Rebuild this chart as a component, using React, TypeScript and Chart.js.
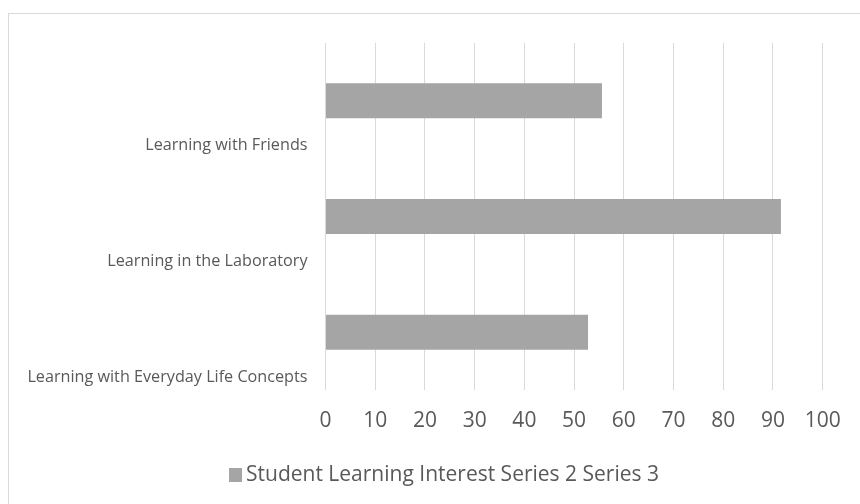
import { useEffect, useRef } from "react";
import { Chart, registerables } from "chart.js";

Chart.register(...registerables);

// Categories listed top to bottom as they appear on the vertical axis
const categories = [
  "Learning with Friends",
  "Learning in the Laboratory",
  "Learning with Everyday Life Concepts",
];

const seriesNames = ["Student Learning Interest", "Series 2", "Series 3"];

const studentLearningInterest = [55.6, 91.6, 52.8];
const series2: (number | null)[] = [null, null, null];
const series3: (number | null)[] = [null, null, null];

const xMin = 0;
const xMax = 100;
const xStep = 10;

const FONT = "'Open Sans', 'Noto Sans', sans-serif";
const TEXT = "#595959";
const BAR = "#a5a5a5";
const GRID = "#d9d9d9";

// Single-row legend: one key box for the filled series, names joined by spaces
const bottomLegend = {
  id: "bottomLegend",
  afterDraw(chart: any) {
    const ctx: CanvasRenderingContext2D = chart.ctx;
    const sets = chart.data.datasets;
    const text = sets.map((d: any) => d.label).join(" ");
    ctx.save();
    ctx.font = `21px ${FONT}`;
    const textW = ctx.measureText(text).width;
    const box = 13;
    const gap = 4;
    const total = box + gap + textW;
    const x0 = chart.width / 2 - total / 2;
    const cy = 461;
    ctx.fillStyle = sets[0].backgroundColor;
    ctx.fillRect(x0, cy - 7, box, 14);
    ctx.fillStyle = TEXT;
    ctx.textBaseline = "middle";
    ctx.textAlign = "left";
    ctx.fillText(text, x0 + box + gap, cy);
    ctx.restore();
  },
};

export default function App() {
  const canvasRef = useRef<HTMLCanvasElement | null>(null);

  useEffect(() => {
    if (!canvasRef.current) return;
    const barStyle = {
      grouped: false,
      categoryPercentage: 1,
      barPercentage: 0.303,
    };
    const chart = new Chart(canvasRef.current, {
      type: "bar",
      data: {
        labels: categories,
        datasets: [
          { label: seriesNames[0], data: studentLearningInterest, backgroundColor: BAR, ...barStyle },
          { label: seriesNames[1], data: series2, backgroundColor: "transparent", ...barStyle },
          { label: seriesNames[2], data: series3, backgroundColor: "transparent", ...barStyle },
        ],
      } as any,
      options: {
        indexAxis: "y",
        responsive: false,
        animation: false,
        layout: { padding: { left: 0, right: 56.3, top: 29, bottom: 0 } },
        plugins: {
          legend: { display: false },
          tooltip: { enabled: false },
        },
        scales: {
          x: {
            min: xMin,
            max: xMax,
            grid: { color: GRID, lineWidth: 1, drawTicks: false },
            border: { display: false },
            ticks: {
              stepSize: xStep,
              color: TEXT,
              font: { family: FONT, size: 21 },
              padding: 18.5,
            },
            afterFit: (s: any) => {
              s.height = 114;
            },
          },
          y: {
            grid: { display: false, drawTicks: false },
            border: { display: false },
            ticks: {
              color: TEXT,
              font: { family: FONT, size: 16.2 },
              padding: 18,
              labelOffset: 45,
              autoSkip: false,
            },
            afterFit: (s: any) => {
              s.width = 316.5;
            },
          },
        },
      } as any,
      plugins: [bottomLegend],
    });
    return () => chart.destroy();
  }, []);

  return (
    <div
      style={{
        position: "fixed",
        left: 0,
        top: 0,
        width: 860,
        height: 504,
        overflow: "hidden",
        background: "#ffffff",
      }}
    >
      <div
        style={{
          position: "absolute",
          left: 8,
          top: 13,
          width: 900,
          height: 600,
          borderLeft: `1px solid ${GRID}`,
          borderTop: `1px solid ${GRID}`,
          boxSizing: "border-box",
        }}
      />
      <canvas
        ref={canvasRef}
        width={870}
        height={490}
        style={{ position: "absolute", left: 9, top: 14 }}
      />
    </div>
  );
}
